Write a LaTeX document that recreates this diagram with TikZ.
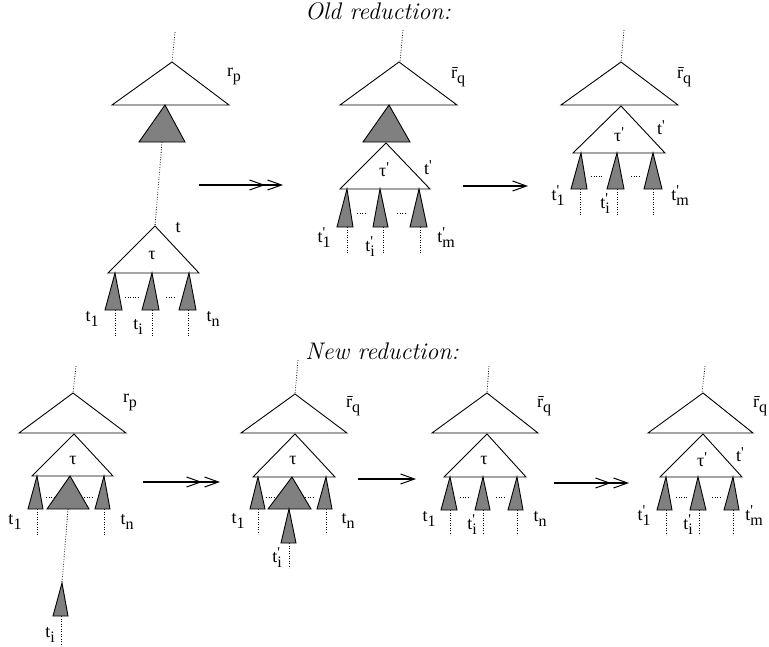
\documentclass[tikz,border=0pt]{standalone}
\usepackage{fontspec}
\newfontfamily\lblfont{Liberation Serif}
\usetikzlibrary{arrows.meta}
\newcommand{\LS}[2]{{\lblfont\fontsize{18}{18}\selectfont #1\raisebox{-5pt}{\fontsize{16}{16}\selectfont #2}}}
\newcommand{\LP}[2]{{\lblfont\fontsize{18}{18}\selectfont #1\rlap{\raisebox{5pt}{\fontsize{15}{15}\selectfont '}}\raisebox{-5pt}{\fontsize{16}{16}\selectfont #2}}}
\newcommand{\LR}{{\lblfont\fontsize{18}{18}\selectfont \={r}\raisebox{-5pt}{\fontsize{16}{16}\selectfont q}}}
\newcommand{\LQ}[1]{{\lblfont\fontsize{18}{18}\selectfont #1\raisebox{4pt}{\fontsize{15}{15}\selectfont '}}}
\newcommand{\LT}[1]{{\lblfont\fontsize{18}{18}\selectfont #1}}
\newcommand{\wtri}[3]{\draw[wtri] #1 -- #2 -- #3 -- cycle;}
\newcommand{\gtri}[3]{\draw[gtri] #1 -- #2 -- #3 -- cycle;}
\tikzset{
  wtri/.style={draw=black, fill=white, line width=0.9pt, line join=miter},
  gtri/.style={draw=black, fill=gray, line width=0.9pt, line join=miter},
  dotline/.style={line width=0.8pt, dash pattern=on 0.8pt off 1.7pt},
  lbl/.style={inner sep=0pt, anchor=center},
  ttl/.style={inner sep=0pt, anchor=center, font=\fontsize{24}{24}\selectfont\itshape},
  sarrow/.style={line width=1.2pt, -{Straight Barb[length=14pt,width=10pt,line width=1pt]}},
  darrow/.style={line width=1.2pt, -{Straight Barb[length=14pt,width=10pt,line width=1pt,sep=2pt] Straight Barb[length=14pt,width=10pt,line width=1pt]}}
}
\begin{document}
\begin{tikzpicture}[x=1pt,y=-1pt]
\useasboundingbox (0,0) rectangle (769,646);

% ===== titles
\node[ttl] (old) at (378,11) {Old reduction:};
\node[ttl] (new) at (382,351) {New reduction:};

% ===== Old 1
\draw[dotline] (175,32) -- (172,62);
\draw[dotline] (162,142) -- (155,226);
\draw[dotline] (115,310) -- (115,337);
\draw[dotline] (152,310) -- (152,337);
\draw[dotline] (188,310) -- (188,337);
\draw[dotline] (125,297) -- (138,297);
\draw[dotline] (166,297) -- (175,297);
\wtri{(172,62)}{(112,105)}{(229,105)}
\gtri{(165,105)}{(139,142)}{(185,142)}
\wtri{(155,226)}{(108,273)}{(199,273)}
\gtri{(115,273)}{(105,310)}{(122,310)}
\gtri{(152,273)}{(142,310)}{(159,310)}
\gtri{(189,273)}{(179,310)}{(196,310)}
\node[lbl] (o1rp) at (234,76) {\LS{r}{p}};
\node[lbl] (o1t) at (178,228) {\LT{t}};
\node[lbl] (o1tau) at (152,255) {\LT{τ}};
\node[lbl] (o1t1) at (92,319) {\LS{t}{1}};
\node[lbl] (o1ti) at (138,327) {\LS{t}{i}};
\node[lbl] (o1tn) at (213,319) {\LS{t}{n}};

\coordinate (a1s) at (199,185);
\coordinate (a1e) at (283,185);
\draw[darrow] (a1s) -- (a1e);

% ===== Old 2
\draw[dotline] (403,30) -- (400,62);
\draw[dotline] (347,227) -- (347,253);
\draw[dotline] (383,227) -- (383,253);
\draw[dotline] (420,227) -- (420,253);
\draw[dotline] (357,213) -- (367,213);
\draw[dotline] (397,213) -- (406,213);
\wtri{(399,62)}{(340,105)}{(457,105)}
\gtri{(389,105)}{(363,142)}{(410,142)}
\wtri{(386,143)}{(340,189)}{(430,189)}
\gtri{(347,189)}{(337,227)}{(353,227)}
\gtri{(380,189)}{(373,227)}{(388,227)}
\gtri{(419,189)}{(410,227)}{(427,227)}
\node[lbl] (o2rq) at (458,77) {\LR};
\node[lbl] (o2tau) at (384,170) {\LQ{τ}};
\node[lbl] (o2t) at (428,168) {\LQ{t}};
\node[lbl] (o2t1) at (324,238) {\LP{t}{1}};
\node[lbl] (o2ti) at (370,247) {\LP{t}{i}};
\node[lbl] (o2tm) at (446,238) {\LP{t}{m}};

\coordinate (a2s) at (463,186);
\coordinate (a2e) at (528,186);
\draw[sarrow] (a2s) -- (a2e);

% ===== Old 3
\draw[dotline] (624,30) -- (621,62);
\draw[dotline] (580,189) -- (580,216);
\draw[dotline] (617,189) -- (617,216);
\draw[dotline] (653,189) -- (653,216);
\draw[dotline] (591,176) -- (603,176);
\draw[dotline] (631,176) -- (640,176);
\wtri{(621,62)}{(561,105)}{(678,105)}
\wtri{(621,106)}{(573,153)}{(665,153)}
\gtri{(581,153)}{(571,189)}{(587,189)}
\gtri{(617,153)}{(607,189)}{(624,189)}
\gtri{(653,153)}{(644,189)}{(662,189)}
\node[lbl] (o3rq) at (684,77) {\LR};
\node[lbl] (o3tau) at (619,135) {\LQ{τ}};
\node[lbl] (o3t) at (661,128) {\LQ{t}};
\node[lbl] (o3t1) at (558,196) {\LP{t}{1}};
\node[lbl] (o3ti) at (605,204) {\LP{t}{i}};
\node[lbl] (o3tm) at (680,196) {\LP{t}{m}};

% ===== New 1
\draw[dotline] (76,366) -- (73,393);
\draw[dotline] (37,509) -- (37,535);
\draw[dotline] (104,509) -- (104,535);
\draw[dotline] (68,509) -- (62,583);
\draw[dotline] (61,616) -- (61,646);
\draw[dotline] (46,497) -- (56,497);
\draw[dotline] (84,497) -- (93,497);
\wtri{(73,393)}{(19,433)}{(126,433)}
\wtri{(74,434)}{(32,476)}{(113,476)}
\gtri{(37,476)}{(28,509)}{(43,509)}
\gtri{(70,476)}{(47,509)}{(89,509)}
\gtri{(104,476)}{(95,509)}{(110,509)}
\gtri{(62,583)}{(53,616)}{(68,616)}
\node[lbl] (n1rp) at (130,402) {\LS{r}{p}};
\node[lbl] (n1tau) at (73,460) {\LT{τ}};
\node[lbl] (n1t1) at (15,522) {\LS{t}{1}};
\node[lbl] (n1tn) at (127,522) {\LS{t}{n}};
\node[lbl] (n1ti) at (50,635) {\LS{t}{i}};

\coordinate (a3s) at (143,482);
\coordinate (a3e) at (220,482);
\draw[darrow] (a3s) -- (a3e);

% ===== New 2
\draw[dotline] (298,360) -- (295,394);
\draw[dotline] (258,509) -- (258,534);
\draw[dotline] (326,509) -- (326,534);
\draw[dotline] (289,543) -- (289,568);
\draw[dotline] (266,497) -- (275,497);
\draw[dotline] (305,497) -- (314,497);
\wtri{(295,394)}{(241,433)}{(347,433)}
\wtri{(295,434)}{(253,477)}{(335,477)}
\gtri{(258,477)}{(250,509)}{(265,509)}
\gtri{(292,477)}{(268,509)}{(311,509)}
\gtri{(326,477)}{(317,509)}{(332,509)}
\gtri{(289,509)}{(281,543)}{(296,543)}
\node[lbl] (n2rq) at (353,406) {\LR};
\node[lbl] (n2tau) at (293,460) {\LT{τ}};
\node[lbl] (n2t1) at (238,521) {\LS{t}{1}};
\node[lbl] (n2tn) at (348,521) {\LS{t}{n}};
\node[lbl] (n2ti) at (277,558) {\LP{t}{i}};

\coordinate (a4s) at (358,479);
\coordinate (a4e) at (416,479);
\draw[sarrow] (a4s) -- (a4e);

% ===== New 3
\draw[dotline] (489,366) -- (487,393);
\draw[dotline] (450,510) -- (450,535);
\draw[dotline] (483,510) -- (483,535);
\draw[dotline] (517,510) -- (517,535);
\draw[dotline] (460,497) -- (470,497);
\draw[dotline] (496,497) -- (504,497);
\wtri{(487,393)}{(432,433)}{(538,433)}
\wtri{(487,434)}{(444,477)}{(526,477)}
\gtri{(450,477)}{(441,510)}{(457,510)}
\gtri{(483,477)}{(475,510)}{(490,510)}
\gtri{(517,477)}{(508,510)}{(523,510)}
\node[lbl] (n3rq) at (544,406) {\LR};
\node[lbl] (n3tau) at (484,460) {\LT{τ}};
\node[lbl] (n3t1) at (429,519) {\LS{t}{1}};
\node[lbl] (n3ti) at (472,525) {\LP{t}{i}};
\node[lbl] (n3tn) at (540,519) {\LS{t}{n}};

\coordinate (a5s) at (554,483);
\coordinate (a5e) at (629,483);
\draw[darrow] (a5s) -- (a5e);

% ===== New 4
\draw[dotline] (705,366) -- (702,393);
\draw[dotline] (666,510) -- (666,535);
\draw[dotline] (699,510) -- (699,535);
\draw[dotline] (733,510) -- (733,535);
\draw[dotline] (676,497) -- (687,497);
\draw[dotline] (712,497) -- (720,497);
\wtri{(703,393)}{(648,433)}{(753,433)}
\wtri{(703,434)}{(660,477)}{(742,477)}
\gtri{(666,477)}{(657,510)}{(672,510)}
\gtri{(698,477)}{(690,510)}{(706,510)}
\gtri{(733,477)}{(724,510)}{(739,510)}
\node[lbl] (n4rq) at (760,406) {\LR};
\node[lbl] (n4tau) at (702,460) {\LQ{τ}};
\node[lbl] (n4t) at (740,455) {\LQ{t}};
\node[lbl] (n4t1) at (644,516) {\LP{t}{1}};
\node[lbl] (n4ti) at (688,525) {\LP{t}{i}};
\node[lbl] (n4tm) at (754,516) {\LP{t}{m}};
\end{tikzpicture}
\end{document}
